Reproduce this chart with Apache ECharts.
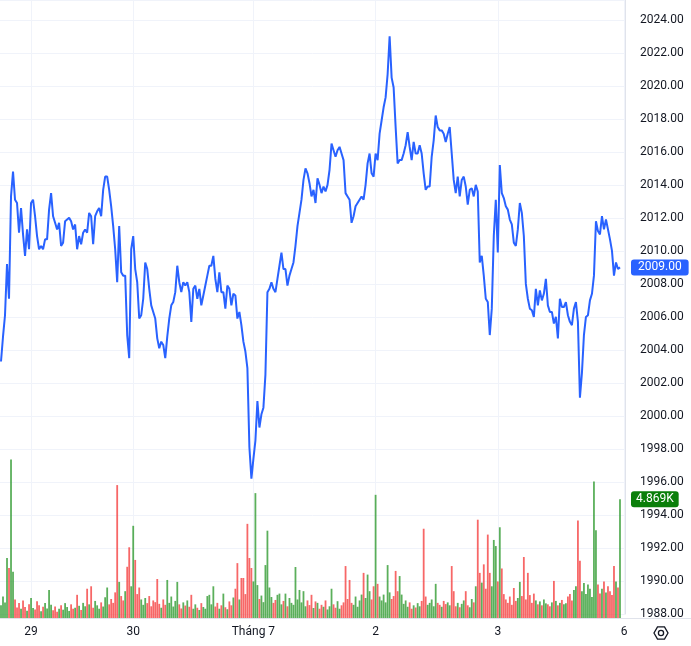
<!DOCTYPE html>
<html>
<head>
<meta charset="utf-8">
<script src="https://cdn.jsdelivr.net/npm/echarts/dist/echarts.min.js"></script>
<style>
  html, body { margin: 0; padding: 0; background: #fff; }
  #chart { width: 691px; height: 646px; }
</style>
</head>
<body>
<div id="chart"></div>
<script>
// time axis: one slot per bar, labels only on a few of them
var slotCount = 312;
var tickIndex = [15, 66, 126, 187, 248, 311];
var tickLabels = ['29', '30', 'Tháng 7', '2', '3', '6'];

// price (line)
var price = [
    2003.3, 2004.8, 2006.1, 2009.2, 2007.1, 2013.3, 2014.8, 2013.1, 2012.9, 2011.1,
    2012.6, 2011.0, 2009.7, 2011.3, 2010.1, 2012.9, 2013.1, 2012.1, 2010.9, 2010.1,
    2010.3, 2010.1, 2010.7, 2010.7, 2012.5, 2013.5, 2012.1, 2011.7, 2011.3, 2011.7,
    2010.3, 2010.5, 2011.8, 2011.9, 2012.0, 2011.8, 2011.3, 2011.6, 2010.1, 2010.9,
    2010.4, 2011.1, 2011.3, 2011.1, 2012.3, 2012.1, 2010.4, 2012.1, 2012.4, 2012.6,
    2012.1, 2013.7, 2014.5, 2014.5, 2013.7, 2012.7, 2011.5, 2010.1, 2008.1, 2011.5,
    2008.7, 2008.5, 2008.5, 2004.9, 2003.5, 2010.1, 2010.9, 2008.9, 2008.1, 2005.9,
    2006.1, 2007.1, 2009.3, 2008.9, 2007.7, 2006.7, 2006.3, 2005.9, 2004.7, 2004.1,
    2004.5, 2004.3, 2003.5, 2004.8, 2005.9, 2006.7, 2006.9, 2007.5, 2009.1, 2008.1,
    2007.5, 2008.1, 2007.9, 2008.1, 2007.5, 2005.7, 2007.7, 2007.9, 2007.1, 2007.7,
    2006.7, 2007.3, 2007.9, 2008.5, 2009.1, 2009.1, 2009.7, 2008.3, 2007.5, 2008.7,
    2007.5, 2007.5, 2006.5, 2007.9, 2007.7, 2006.7, 2007.4, 2007.3, 2005.9, 2006.3,
    2005.5, 2004.5, 2003.9, 2002.9, 1998.1, 1996.2, 1997.4, 1998.5, 2000.9, 1999.3,
    2000.1, 2000.5, 2002.5, 2007.5, 2007.7, 2008.1, 2007.7, 2007.5, 2008.3, 2009.1,
    2009.9, 2008.9, 2008.9, 2007.9, 2008.5, 2008.9, 2009.3, 2010.3, 2011.5, 2012.3,
    2013.1, 2014.3, 2015.0, 2014.7, 2014.1, 2013.3, 2013.7, 2012.9,
    2014.4, 2014.0, 2013.5, 2013.9, 2013.6, 2014.0, 2014.9, 2016.5, 2016.1, 2015.7,
    2016.1, 2016.3, 2015.9, 2015.5, 2013.5, 2013.3, 2013.1, 2011.7, 2012.1, 2012.7,
    2012.9, 2013.1, 2013.3, 2013.1, 2014.0, 2015.3, 2015.9, 2014.7, 2014.5, 2015.9,
    2015.5, 2017.1, 2017.9, 2018.7, 2019.3, 2020.7, 2023.0, 2020.5, 2019.9, 2017.5,
    2015.3, 2015.5, 2015.5, 2015.9, 2016.4, 2017.2, 2016.3, 2015.5, 2016.6, 2015.9,
    2015.9, 2016.4, 2015.9, 2014.7, 2013.7, 2013.9, 2013.9, 2015.7, 2016.7, 2018.2,
    2017.5, 2017.3, 2017.3, 2017.1, 2016.6, 2017.1, 2017.5, 2015.9, 2014.3, 2013.5,
    2014.5, 2013.3, 2014.3, 2014.5, 2013.9, 2012.8, 2013.7,
    2013.8, 2013.3, 2014.0, 2013.6, 2009.3, 2009.7, 2008.5, 2007.1, 2006.9, 2004.9,
    2006.5, 2010.9, 2013.1, 2009.9, 2015.2, 2013.5, 2013.2, 2012.7, 2012.5, 2011.9,
    2011.6, 2010.5, 2010.3, 2011.3, 2012.9, 2012.3, 2010.9, 2008.0, 2007.1, 2006.5,
    2006.4, 2006.0, 2007.7, 2006.7, 2007.6, 2007.0, 2007.4, 2008.3, 2006.7, 2006.3,
    2006.3, 2005.6, 2006.0, 2004.7, 2007.1, 2006.6, 2006.6, 2006.9, 2006.1, 2005.7,
    2005.5, 2006.5, 2006.9, 2005.7, 2001.1, 2002.6, 2004.9, 2006.0, 2006.1, 2007.0,
    2007.4, 2008.5, 2011.8, 2011.2, 2011.0, 2012.1, 2011.3, 2011.9, 2011.3, 2010.7,
    2010.0, 2008.5, 2009.3, 2008.9, 2009.0
];

// volume (bars)
var volume = [
    520, 880, 640, 2460, 2050, 6500, 1900, 760, 430, 610,
    380, 720, 450, 300, 560, 820, 410, 350, 690, 520,
    280, 460, 610, 390, 1150, 540, 320, 470, 260, 380,
    520, 340, 610, 450, 290, 560, 380, 420, 950, 500,
    330, 620, 480, 1200, 560, 1300, 420, 700, 520, 380,
    640, 470, 850, 1250, 560, 780, 620, 1050, 5450, 1480,
    900, 720, 1100, 2100, 2900, 1300, 3780, 2380, 980, 1250,
    760, 540, 820, 610, 900, 480, 720, 650, 1600, 580,
    420, 760, 540, 1560, 620, 880, 470, 700, 1480, 560,
    390, 640, 510, 720, 460, 950, 380, 560, 420, 330,
    610, 450, 380, 900, 950, 560, 1300, 470, 620, 380,
    520, 1000, 440, 360, 680, 520, 840, 1200, 2250, 760,
    1640, 1640, 980, 3860, 2460, 2050, 1500, 5120, 1350, 780,
    920, 650, 2170, 3580, 1250, 860, 620, 740, 950, 1000,
    560, 700, 1000, 480, 820, 620, 540, 2090, 760, 1150,
    640, 1100, 480, 720, 530, 950, 410, 680, 620, 380,
    540, 460, 720, 350, 480, 1200, 560, 420, 690, 380,
    520, 640, 2130, 780, 1560, 620, 540, 880, 460, 720,
    960, 1850, 820, 1780, 1100, 760, 1300, 5050, 1400, 880,
    720, 960, 640, 2170, 1050, 780, 900, 1930, 1100, 1720,
    960, 580, 720, 460, 640, 380, 520, 430, 610, 480,
    700, 3660, 880, 540, 620, 760, 480, 1400, 620, 540,
    460, 700, 570, 640, 520, 2130, 1100, 480, 620, 440,
    580, 720, 1100, 520, 440, 780, 640, 1300, 4030, 1850,
    1450, 2200, 1200, 3420, 1850, 1300, 3200, 2950, 1500, 3720,
    2030, 980, 760, 620, 880, 540, 1230, 700, 820, 1480,
    900, 2500, 760, 1850, 940, 620, 1000, 720, 560, 680,
    520, 760, 600, 560, 480, 640, 1520, 700, 520, 620,
    740, 560, 600, 880, 980, 720, 1150, 1300, 4000, 2350,
    1100, 1430, 980, 1370, 1200, 860, 5600, 3600, 1370, 1000,
    1200, 1500, 1050, 1300, 1100, 940, 2130, 1500, 1250, 4869
];

var fontFamily = 'Roboto, "Noto Sans", sans-serif';
var upColor = 'rgba(50, 155, 50, 0.8)';
var downColor = 'rgba(245, 65, 65, 0.8)';

var categories = [];
for (var i = 0; i < slotCount; i++) {
    categories.push('');
}
tickIndex.forEach(function (idx, k) {
    categories[idx] = tickLabels[k];
});
function isTick(idx) {
    return tickIndex.indexOf(idx) >= 0;
}

// colour each volume bar by the move of the price
var volumeData = volume.map(function (v, i) {
    var up = i == 0 || price[i] >= price[i - 1];
    return { value: v, itemStyle: { color: up ? upColor : downColor } };
});

var lastPrice = price[price.length - 1];
var lastVolume = volume[volume.length - 1];

// vertical grid lines on the date ticks
var dateLines = tickIndex.map(function (idx) {
    return { xAxis: idx };
});

// gear icon in the corner
var hexPoints = [];
for (var a = 0; a < 6; a++) {
    var ang = Math.PI / 3 * a;
    hexPoints.push([661 + 7 * Math.cos(ang), 633 + 7 * Math.sin(ang)]);
}

var myChart = echarts.init(document.getElementById('chart'));
var option = {
    animation: false,
    backgroundColor: '#ffffff',
    axisPointer: { triggerOn: 'none' },
    grid: [
        { left: 0, right: 66, top: 0, bottom: 32 },
        { left: 0, right: 66, top: 418, bottom: 28 }
    ],
    xAxis: [
        {
            type: 'category',
            gridIndex: 0,
            data: categories,
            axisLine: { show: false },
            axisTick: { show: false },
            axisLabel: { show: false },
            splitLine: { show: false }
        },
        {
            type: 'category',
            gridIndex: 1,
            data: categories,
            axisLine: { show: true, lineStyle: { color: '#e0e3eb' } },
            axisTick: { show: false },
            axisLabel: {
                interval: isTick,
                color: '#131722',
                fontSize: 12,
                fontFamily: fontFamily,
                margin: 8
            },
            splitLine: { show: false }
        }
    ],
    yAxis: [
        {
            type: 'value',
            gridIndex: 0,
            position: 'right',
            min: 1988,
            max: 2025.2,
            interval: 2,
            axisLine: { show: true, lineStyle: { color: '#e0e3eb' } },
            axisTick: { show: false },
            axisLabel: {
                color: '#131722',
                fontSize: 12,
                fontFamily: fontFamily,
                margin: 15,
                showMaxLabel: false,
                formatter: function (v) { return v.toFixed(2); }
            },
            splitLine: { lineStyle: { color: '#f0f3fa', width: 1 } },
            axisPointer: {
                show: true,
                status: 'show',
                value: lastPrice,
                triggerTooltip: false,
                lineStyle: { opacity: 0 },
                label: {
                    show: true,
                    backgroundColor: '#2962ff',
                    color: '#ffffff',
                    fontSize: 12,
                    fontFamily: fontFamily,
                    padding: [2, 7, 2, 7],
                    margin: 6,
                    formatter: function (p) { return Number(p.value).toFixed(2); }
                }
            }
        },
        {
            type: 'value',
            gridIndex: 1,
            position: 'right',
            min: 0,
            max: 8200,
            axisLine: { show: false },
            axisTick: { show: false },
            axisLabel: { show: false },
            splitLine: { show: false },
            axisPointer: {
                show: true,
                status: 'show',
                value: lastVolume,
                triggerTooltip: false,
                lineStyle: { opacity: 0 },
                label: {
                    show: true,
                    backgroundColor: '#0a7f0a',
                    color: '#ffffff',
                    fontSize: 12,
                    fontFamily: fontFamily,
                    padding: [2, 5, 2, 5],
                    margin: 6,
                    formatter: function (p) { return (Number(p.value) / 1000).toFixed(3) + 'K'; }
                }
            }
        }
    ],
    series: [
        {
            name: 'Khối lượng',
            type: 'bar',
            xAxisIndex: 1,
            yAxisIndex: 1,
            barWidth: 1.8,
            data: volumeData,
            z: 2
        },
        {
            name: 'Giá',
            type: 'line',
            xAxisIndex: 0,
            yAxisIndex: 0,
            data: price,
            showSymbol: false,
            lineStyle: { color: '#2962ff', width: 2 },
            itemStyle: { color: '#2962ff' },
            markLine: {
                silent: true,
                symbol: 'none',
                label: { show: false },
                lineStyle: { color: '#f0f3fa', type: 'solid', width: 1 },
                data: dateLines,
                z: 0
            },
            z: 3
        }
    ],
    graphic: [
        {
            type: 'line',
            shape: { x1: 625, y1: 618.5, x2: 691, y2: 618.5 },
            style: { stroke: '#e0e3eb', lineWidth: 1 }
        },
        {
            type: 'polygon',
            shape: { points: hexPoints },
            style: { fill: 'none', stroke: '#131722', lineWidth: 1.3 }
        },
        {
            type: 'circle',
            shape: { cx: 661, cy: 633, r: 2.6 },
            style: { fill: 'none', stroke: '#131722', lineWidth: 1.3 }
        }
    ]
};
myChart.setOption(option);
</script>
</body>
</html>
